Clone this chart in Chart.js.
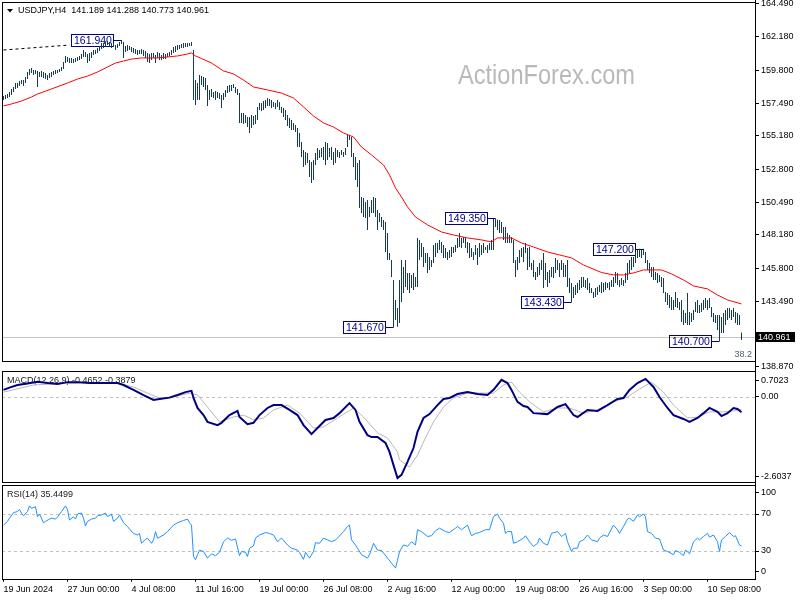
<!DOCTYPE html>
<html><head><meta charset="utf-8">
<script src="https://cdn.jsdelivr.net/npm/chart.js@4.4.1/dist/chart.umd.min.js"></script>
<style>
html,body{margin:0;padding:0;background:#fff;}
body{width:800px;height:600px;position:relative;overflow:hidden;}
canvas{position:absolute;left:0;}
#price{top:0;} #macd{top:365px;} #rsi{top:480px;}
</style></head>
<body>
<canvas id="price" width="800" height="375"></canvas>
<canvas id="macd" width="800" height="120"></canvas>
<canvas id="rsi" width="800" height="120"></canvas>
<script>
// ---------------- DATA ----------------
const symbol = 'USDJPY,H4';
const lastOHLC = [141.189, 141.288, 140.773, 140.961];
const watermark = 'ActionForex.com';
const fibLevel = '38.2';

const highs = [
157.99,158.06,158.13,158.27,158.49,158.63,158.91,158.91,159.05,159.12,
159.12,159.33,159.69,159.90,159.97,159.83,159.83,159.76,159.69,159.76,
159.69,159.62,159.48,159.62,159.69,159.76,159.83,159.83,159.90,160.04,
160.39,160.82,160.75,160.68,160.68,160.60,160.68,160.75,160.82,160.96,
161.24,161.10,160.96,161.03,161.10,161.24,161.24,161.38,161.52,161.73,
161.73,161.80,161.88,161.80,161.73,161.73,161.59,161.66,161.80,161.94,
161.80,161.52,161.59,161.52,161.45,161.38,161.31,161.24,161.24,161.31,
161.24,161.17,161.03,160.96,161.03,161.03,160.89,161.10,161.03,160.89,
161.03,160.96,161.03,161.10,161.24,161.45,161.52,161.59,161.59,161.66,
161.73,161.73,161.73,161.73,161.80,161.24,159.12,158.91,159.48,159.40,
159.33,159.26,158.77,158.42,158.49,158.27,158.35,158.27,158.20,158.06,
158.20,158.42,158.70,158.77,158.77,158.84,158.63,158.49,158.20,156.79,
156.79,156.65,156.51,156.51,156.65,156.58,156.65,157.22,157.50,157.50,
157.64,157.71,157.85,157.78,157.71,157.57,157.50,157.71,157.57,157.22,
157.15,157.00,156.65,156.44,156.30,156.09,155.95,155.73,155.38,154.75,
154.18,154.04,153.97,153.47,153.33,153.47,153.97,154.32,154.18,154.32,
154.39,154.75,154.67,154.32,154.39,154.04,154.32,154.18,154.04,154.18,
154.04,154.32,155.31,155.24,155.10,153.97,153.69,153.26,153.47,150.86,
150.79,150.51,150.65,150.16,150.65,150.86,150.79,149.94,149.73,149.45,
149.24,149.10,148.32,146.91,146.41,145.00,143.59,143.03,145.00,146.41,
145.92,146.41,145.50,145.50,145.36,145.50,145.21,147.97,147.83,147.61,
147.33,146.91,146.91,146.63,146.41,147.47,147.61,147.61,147.83,147.69,
147.47,147.26,146.98,147.12,147.33,147.33,147.47,147.97,148.32,147.97,
148.04,147.97,147.69,147.61,147.26,146.98,147.47,147.26,147.61,147.47,
147.61,147.33,147.47,147.61,147.83,149.30,149.35,149.28,149.24,149.10,
148.74,148.74,148.32,148.18,148.04,147.83,146.41,146.63,147.12,147.26,
147.33,147.61,147.26,147.33,146.20,146.41,145.57,145.92,146.20,146.41,
146.91,146.20,145.57,145.71,145.92,145.92,146.56,146.41,146.20,146.41,
146.20,146.06,146.41,145.14,144.79,144.51,144.65,144.79,145.00,145.21,
145.21,145.00,145.14,144.79,144.44,144.16,144.44,144.51,144.65,144.86,
144.79,144.86,144.79,144.86,145.00,145.21,145.57,145.50,145.00,145.14,
145.00,145.50,146.20,146.41,146.63,146.63,146.98,147.12,147.20,147.12,
147.20,146.98,146.41,146.20,145.92,145.92,145.57,145.50,145.36,145.21,
145.14,144.16,144.08,143.94,143.80,143.59,144.16,143.73,143.45,143.59,
142.88,142.67,144.08,142.74,142.67,142.88,143.45,143.59,143.24,143.38,
143.59,143.73,143.59,143.73,143.10,142.67,142.53,142.53,142.53,142.39,
142.67,142.88,143.03,143.03,142.88,143.03,142.74,142.67,142.53,141.29
];
const lows = [
157.71,157.78,157.85,157.92,158.06,158.27,158.49,158.56,158.70,158.84,
158.70,158.91,159.19,159.48,159.62,159.48,159.55,158.63,159.33,159.33,
159.26,159.19,159.12,159.26,159.33,159.48,159.55,159.62,159.69,159.76,
159.90,160.32,160.39,160.32,160.32,160.32,160.39,160.46,160.53,160.60,
160.75,160.75,160.32,160.46,160.68,160.89,160.96,161.03,161.17,161.31,
161.38,161.45,161.59,161.45,161.38,161.45,161.24,161.38,161.52,161.66,
160.68,161.10,161.17,161.24,161.10,161.03,160.96,160.89,160.96,160.96,
160.82,160.68,160.39,160.32,160.53,160.68,160.32,160.68,160.53,160.53,
160.60,160.60,160.75,160.82,160.89,161.03,161.10,161.24,161.31,161.38,
161.38,161.45,161.45,161.52,161.52,157.71,157.36,157.71,157.71,158.77,
158.63,158.42,157.29,157.71,157.92,157.85,157.71,157.85,157.78,157.15,
157.71,157.92,158.20,158.27,158.35,158.56,158.20,158.06,156.09,156.09,
156.02,156.09,155.80,155.38,155.73,155.95,156.02,156.30,157.00,156.93,
157.00,157.15,157.29,157.29,157.15,157.22,157.07,157.22,157.00,156.79,
156.51,156.30,155.87,155.73,155.59,155.59,155.45,154.39,154.39,153.69,
152.98,153.12,153.26,152.27,151.85,152.06,153.12,153.47,153.62,153.69,
153.47,153.12,153.47,153.69,153.47,153.12,153.26,153.69,153.62,153.83,
153.69,153.83,154.39,154.89,153.69,152.98,152.06,151.57,150.09,149.73,
149.45,149.38,148.53,149.45,149.73,149.73,149.45,148.53,149.10,148.74,
148.53,146.98,146.41,146.41,145.21,141.67,142.18,141.69,141.97,143.45,
144.08,144.51,144.30,144.08,144.44,144.30,144.51,144.51,146.41,146.63,
145.92,146.20,145.50,145.71,145.92,146.20,146.63,146.91,147.12,146.91,
146.56,146.56,146.41,146.56,146.63,146.91,146.98,147.26,147.33,147.26,
147.61,147.26,146.91,146.56,146.63,146.41,146.77,146.06,146.63,146.77,
146.91,147.12,146.91,147.12,147.12,147.12,148.74,148.53,148.32,148.32,
147.83,147.61,147.61,147.61,147.61,146.20,145.21,145.71,146.20,146.63,
146.27,146.91,145.71,145.92,145.71,145.21,145.00,145.21,145.36,145.71,
144.44,145.00,144.51,144.79,145.21,145.14,145.50,145.71,145.21,145.71,
145.21,145.21,144.51,144.08,143.43,143.73,143.94,144.08,144.30,144.44,
144.51,144.44,144.30,144.08,144.08,143.73,143.80,143.94,144.16,144.08,
144.16,144.30,144.44,144.30,144.51,144.51,144.79,144.65,144.51,144.65,
144.58,144.79,145.00,145.50,145.71,145.92,146.20,146.56,146.63,146.56,
146.77,146.20,145.71,145.50,145.21,145.00,145.00,144.79,144.86,144.51,
144.08,143.45,143.24,143.03,142.88,142.88,143.10,143.03,142.88,142.04,
141.82,141.97,141.82,141.82,142.04,142.18,142.74,142.67,142.67,142.74,
142.88,143.03,142.88,143.03,142.39,142.04,141.97,141.47,140.70,141.26,
141.26,141.82,142.18,142.32,142.18,142.39,141.97,141.82,141.82,140.77
];
const maBars = [0,4,9,14,17,24,32,37,42,47,52,56,60,64,69,77,82,87,92,94,96,99,104,110,115,120,125,132,139,145,150,155,160,165,170,175,179,184,190,193,196,199,202,206,212,219,225,232,239,244,247,254,259,265,272,280,284,290,299,305,310,315,320,329,334,340,345,352,357,362,369];
const maValues = [157.29,157.43,157.64,157.92,158.13,158.49,158.91,159.19,159.40,159.69,160.04,160.32,160.46,160.60,160.68,160.68,160.75,160.82,160.96,161.03,160.82,160.64,160.32,159.76,159.55,159.12,158.63,158.42,158.20,157.85,157.22,156.58,156.09,155.80,155.38,155.10,154.39,153.83,153.12,152.42,151.50,150.86,150.16,149.45,148.89,148.39,148.18,147.97,147.83,147.69,147.97,147.97,147.61,147.33,146.98,146.70,146.56,146.06,145.53,145.36,145.36,145.50,145.71,145.71,145.43,145.00,144.58,144.37,143.94,143.59,143.31];
const pivotBars = [59,195,246,284,320,358];
const pivotPrices = [161.94,141.67,149.35,143.43,147.20,140.70];
const trendBars = [0,33];
const trendPrices = [161.24,161.59];
const priceTicks = [164.49,162.18,159.80,157.49,155.18,152.80,150.49,148.18,145.80,143.49,138.87];

const macdTitle = 'MACD(12,26,9)';
const macdLast = [-0.4652,-0.3879];
const macdBars = [0,3,7,12,17,22,27,32,37,43,50,57,60,65,70,75,78,83,87,91,94,95,97,100,102,107,109,113,117,118,122,125,128,132,135,139,143,147,150,154,157,161,165,168,173,176,178,182,184,187,191,193,195,197,199,202,205,207,210,213,217,220,223,227,232,237,242,245,249,252,254,257,260,262,265,272,277,281,285,287,292,297,302,307,310,313,317,321,325,328,332,335,340,343,347,350,353,357,359,362,365,367,369];
const macdValues = [0.22,0.29,0.37,0.42,0.47,0.43,0.40,0.46,0.46,0.43,0.43,0.43,0.37,0.22,0.06,-0.09,-0.06,-0.02,0.06,0.15,0.19,-0.03,-0.34,-0.56,-0.77,-0.87,-0.80,-0.56,-0.43,-0.62,-0.84,-0.80,-0.56,-0.34,-0.25,-0.25,-0.40,-0.56,-0.87,-1.15,-0.96,-0.71,-0.65,-0.50,-0.19,-0.40,-0.77,-1.18,-1.24,-1.24,-1.42,-1.70,-2.11,-2.51,-2.41,-2.01,-1.58,-1.08,-0.65,-0.53,-0.25,-0.06,-0.03,0.09,0.15,0.09,0.06,0.22,0.53,0.43,0.22,-0.15,-0.28,-0.31,-0.50,-0.53,-0.31,-0.22,-0.56,-0.62,-0.40,-0.43,-0.25,-0.06,-0.03,0.22,0.43,0.56,0.31,0.00,-0.34,-0.56,-0.68,-0.77,-0.65,-0.50,-0.34,-0.46,-0.59,-0.50,-0.34,-0.37,-0.47];
const signalBars = [0,15,32,57,65,72,78,85,93,97,102,108,115,120,125,130,135,142,148,155,160,167,175,180,187,192,197,198,203,207,210,215,220,225,232,238,245,250,254,258,263,270,277,283,290,297,305,312,318,324,330,335,342,347,353,360,365,369];
const signalValues = [0.15,0.37,0.43,0.43,0.31,0.12,-0.03,0.00,0.12,0.06,-0.31,-0.77,-0.62,-0.56,-0.71,-0.65,-0.40,-0.25,-0.50,-0.96,-0.93,-0.65,-0.34,-0.62,-1.11,-1.27,-1.70,-1.95,-2.17,-1.80,-1.39,-0.77,-0.31,-0.03,0.12,0.12,0.12,0.37,0.46,0.15,-0.15,-0.46,-0.34,-0.34,-0.50,-0.40,-0.15,0.00,0.25,0.46,0.15,-0.25,-0.65,-0.62,-0.46,-0.46,-0.43,-0.39];
const macdMax = 0.7023, macdMin = -2.6037;
const macdTickLabels = ['0.7023','0.00','-2.6037'];

const rsiTitle = 'RSI(14)';
const rsiLast = 35.4499;
const rsiBars = [0,2,3,5,7,8,9,10,12,13,14,16,17,18,20,21,23,24,26,27,29,31,32,33,35,36,37,39,40,41,42,44,46,47,49,51,52,54,55,57,58,60,62,63,65,67,68,69,71,72,74,75,76,77,80,82,85,87,90,92,93,94,95,96,97,98,100,102,104,106,108,110,112,114,116,118,119,121,122,123,125,126,128,131,133,135,137,139,142,144,147,148,150,151,153,155,156,158,160,162,164,166,167,170,172,173,174,176,177,179,182,183,185,187,189,192,194,196,197,198,200,202,204,206,207,209,212,214,216,218,221,223,226,227,229,232,234,236,238,241,243,245,247,248,250,251,252,254,255,257,260,261,263,265,267,268,270,272,274,277,279,281,282,284,285,287,288,290,292,294,297,298,300,302,305,307,308,310,312,313,315,317,318,320,321,322,324,326,328,330,332,335,336,338,340,341,343,345,347,348,350,352,353,355,357,358,359,361,363,365,366,368,369];
const rsiValues = [58,62,65.5,71.5,72.7,75,70.7,68,72.7,78.8,76,78,67,70,60.5,62,64.5,65.5,64.5,66.7,72.7,78.8,75,63.5,67,64.5,70,71,65.5,57,62,64.5,65.5,68,69,71,67,70,62,65.5,69,60.5,56.5,53.7,49,47.3,49,38.3,42.7,43.8,38.3,42,51,43.8,47.3,51,58,60.5,63,64.5,60.5,58,24,20.5,26,31,29.5,22.3,27,25,28.5,40,44,41.5,43,25,29.5,28.5,24,33,35.5,44,47.3,50,49,47.3,40,44,36.5,33,31,28.5,21,28.5,22.3,29.5,39,38.3,44,42,40,42,44,51,56.5,58,42,36.5,33,26,22.3,26,38.3,31,30.5,22.3,17,11.5,20,29.5,36.5,35,40,36.5,53,51,45.7,46.5,51.9,54.7,51,50,54.7,56.5,53,58,46.5,49,50,53,53,67,70,65.5,60,49,51,51,38.3,40,44,46.5,40,35,38.3,44,38.3,36.5,49,51,45.7,49,40,29.5,33,33,40,42,47.3,42,40,44,47.3,45.7,58,53,49,56.5,64.5,65.5,62,69,67,70,67,51,49,44,43,31,29.5,26,30.5,28.5,25,31,27,40,44,42,45.7,49,45,47.3,40,29.5,42,45.7,50,45.7,46.5,36.5,35.4];
const rsiLevels = [70,30];
const rsiTickLabels = ['100','70','30','0'];

const xTickBars = [0,32,64,96,128,160,192,224,256,288,320,352];
const xTickLabels = ['19 Jun 2024','27 Jun 00:00','4 Jul 08:00','11 Jul 16:00','19 Jul 00:00','26 Jul 08:00','2 Aug 16:00','12 Aug 00:00','19 Aug 08:00','26 Aug 16:00','3 Sep 00:00','10 Sep 08:00'];

// ---------------- STYLE / LAYOUT ----------------
const FONT = "'Liberation Sans', Arial, sans-serif";
const font = s => s + 'px ' + FONT;
const X_MIN = -0.75, X_MAX = 375.75;
const AXIS_W = 45;
const pts = (bars, vals) => bars.map((b, k) => ({x: b, y: vals[k]}));

function xHidden(){ return {type:'linear', min:X_MIN, max:X_MAX, display:false, offset:false, grid:{offset:false}}; }
function rightAxis(min, max, buildTicks, cb){
  return {
    position:'right', min, max,
    border:{display:false},
    grid:{drawOnChartArea:false, drawTicks:true, tickLength:4, color:'#000', lineWidth:1},
    ticks:{font:{family:FONT, size:9}, color:'#000', padding:2, autoSkip:false, callback:cb},
    afterBuildTicks: buildTicks,
    afterFit(s){ s.width = AXIS_W; s.paddingTop = 0; s.paddingBottom = 0; }
  };
}
const common = {responsive:false, animation:false, events:[], plugins:{legend:{display:false}, tooltip:{enabled:false}}};

function drawFrame(ctx, top, bottom, extendTop, extendBottom){
  ctx.save();
  ctx.strokeStyle = '#000'; ctx.lineWidth = 1;
  ctx.strokeRect(2.5, top + 0.5, 753, bottom - top);
  ctx.beginPath(); ctx.moveTo(755.5, extendTop); ctx.lineTo(755.5, extendBottom); ctx.stroke();
  ctx.restore();
}

// ---------------- PRICE ----------------
const priceDeco = {
  id:'priceDeco',
  beforeDatasetsDraw(chart){
    const {ctx, chartArea:a, scales:{x, y}} = chart;
    ctx.save();
    ctx.font = font(28);
    const w = ctx.measureText(watermark).width;
    ctx.save(); ctx.translate(458, 84); ctx.scale(177 / w, 1);
    ctx.fillStyle = '#b9b9b9'; ctx.textBaseline = 'alphabetic'; ctx.textAlign = 'left';
    ctx.fillText(watermark, 0, 0); ctx.restore();
    const cy = Math.round(y.getPixelForValue(lastOHLC[3])) + 0.5;
    ctx.strokeStyle = '#c4c4c4'; ctx.lineWidth = 1;
    ctx.beginPath(); ctx.moveTo(a.left, cy); ctx.lineTo(a.right, cy); ctx.stroke();
    ctx.font = font(10.5); ctx.textBaseline = 'middle'; ctx.textAlign = 'left';
    pivotBars.forEach((b, k) => {
      const px = x.getPixelForValue(b), py = Math.round(y.getPixelForValue(pivotPrices[k])) + 0.5;
      const txt = pivotPrices[k].toFixed(3);
      const tw = ctx.measureText(txt).width;
      const right = Math.round(px - 8.5) + 0.5, left = Math.round(right - tw - 5) + 0.5;
      ctx.strokeStyle = '#00008b'; ctx.fillStyle = '#00008b'; ctx.lineWidth = 1;
      ctx.strokeRect(left, py - 6, right - left, 12);
      ctx.beginPath(); ctx.moveTo(right, py); ctx.lineTo(px, py); ctx.stroke();
      ctx.fillText(txt, left + 2.5, py + 0.5);
    });
    ctx.restore();
  },
  afterDraw(chart){
    const {ctx, scales:{y}} = chart;
    drawFrame(ctx, 2, 361, 0, chart.height);
    ctx.save();
    ctx.fillStyle = '#000';
    ctx.beginPath(); ctx.moveTo(7, 9); ctx.lineTo(13, 9); ctx.lineTo(10, 12.5); ctx.closePath(); ctx.fill();
    ctx.font = font(9); ctx.textBaseline = 'middle'; ctx.textAlign = 'left';
    ctx.fillText(symbol + '  ' + lastOHLC.map(v => v.toFixed(3)).join(' '), 18, 11);
    ctx.fillStyle = '#4a5f74'; ctx.textAlign = 'right';
    ctx.fillText(fibLevel, 752, 355);
    const cy = y.getPixelForValue(lastOHLC[3]);
    ctx.fillStyle = '#000'; ctx.fillRect(756, Math.round(cy) - 5, 39, 10);
    ctx.fillStyle = '#fff'; ctx.textAlign = 'left';
    ctx.fillText(lastOHLC[3].toFixed(3), 758, cy + 0.5);
    ctx.restore();
  }
};

new Chart(document.getElementById('price'), {
  type:'bar',
  data:{datasets:[
    {type:'line', data: pts(maBars, maValues), borderColor:'#ff0000', borderWidth:1, pointRadius:0, tension:0, order:0},
    {type:'line', data: pts(trendBars, trendPrices), borderColor:'#000', borderWidth:1, borderDash:[3,3], pointRadius:0, order:1},
    {type:'bar', data: highs.map((h, i) => ({x:i, y:[lows[i], h]})), backgroundColor:'#163a5a', barThickness:1, inflateAmount:0, grouped:false, order:2}
  ]},
  options:Object.assign({}, common, {
    layout:{padding:{left:2, top:2, right:0, bottom:14}},
    scales:{
      x: xHidden(),
      y: rightAxis(139.28, 164.63, s => { s.ticks = priceTicks.map(v => ({value:v})); }, v => Number(v).toFixed(3))
    }
  }),
  plugins:[priceDeco]
});

// ---------------- MACD ----------------
const MACD_TOP = 9.3, MACD_BOT = 3.9, MACD_H = 120 - MACD_TOP - MACD_BOT;
const macdDeco = {
  id:'macdDeco',
  beforeDatasetsDraw(chart){
    const {ctx, chartArea:a, scales:{y}} = chart;
    ctx.save();
    const zy = Math.round(y.getPixelForValue(0)) + 0.5;
    ctx.strokeStyle = '#c0c0c0'; ctx.lineWidth = 1; ctx.setLineDash([3,3]);
    ctx.beginPath(); ctx.moveTo(a.left, zy); ctx.lineTo(a.right, zy); ctx.stroke();
    ctx.setLineDash([]);
    ctx.font = font(9); ctx.fillStyle = '#1a1a1a'; ctx.textBaseline = 'middle'; ctx.textAlign = 'left';
    ctx.fillText(macdTitle + ' ' + macdLast.map(v => v.toFixed(4)).join(' '), 7, 16);
    ctx.restore();
  },
  afterDraw(chart){ drawFrame(chart.ctx, 6, 117, 0, chart.height); }
};
new Chart(document.getElementById('macd'), {
  type:'line',
  data:{datasets:[
    {data: pts(macdBars, macdValues), borderColor:'#000080', borderWidth:2, pointRadius:0, tension:0, order:0},
    {data: pts(signalBars, signalValues), borderColor:'#b8b8b8', borderWidth:1, pointRadius:0, tension:0, order:1}
  ]},
  options:Object.assign({}, common, {
    layout:{padding:{left:2, top:MACD_TOP, right:0, bottom:MACD_BOT}},
    scales:{
      x: xHidden(),
      y: rightAxis(macdMin, macdMax, s => {
        const k = (macdMax - macdMin) / MACD_H;
        s.ticks = [{value: macdMax - 6 * k}, {value: 0}, {value: macdMin + 5 * k}];
      }, (v, i) => macdTickLabels[i])
    }
  }),
  plugins:[macdDeco]
});

// ---------------- RSI ----------------
const RSI_TOP = 6.25, X_AXIS_H = 21.25, RSI_H = 120 - RSI_TOP - X_AXIS_H;
const rsiDeco = {
  id:'rsiDeco',
  beforeDatasetsDraw(chart){
    const {ctx, chartArea:a, scales:{y}} = chart;
    ctx.save();
    ctx.strokeStyle = '#c0c0c0'; ctx.lineWidth = 1; ctx.setLineDash([3,3]);
    rsiLevels.forEach(l => {
      const ly = Math.round(y.getPixelForValue(l)) + 0.5;
      ctx.beginPath(); ctx.moveTo(a.left, ly); ctx.lineTo(a.right, ly); ctx.stroke();
    });
    ctx.setLineDash([]);
    ctx.font = font(9); ctx.fillStyle = '#1a1a1a'; ctx.textBaseline = 'middle'; ctx.textAlign = 'left';
    ctx.fillText(rsiTitle + ' ' + rsiLast.toFixed(4), 7, 15);
    ctx.restore();
  },
  afterDraw(chart){ drawFrame(chart.ctx, 5, 99, 0, 99.5); }
};
new Chart(document.getElementById('rsi'), {
  type:'line',
  data:{datasets:[
    {data: pts(rsiBars, rsiValues), borderColor:'#1e90ff', borderWidth:1, pointRadius:0, tension:0}
  ]},
  options:Object.assign({}, common, {
    layout:{padding:{left:2, top:RSI_TOP, right:0, bottom:0}},
    scales:{
      x:{
        type:'linear', min:X_MIN, max:X_MAX, position:'bottom', offset:false,
        border:{display:false},
        grid:{drawOnChartArea:false, drawTicks:true, tickLength:3, color:'#000', offset:false},
        ticks:{font:{family:FONT, size:9}, color:'#000', align:'start', padding:2, maxRotation:0, autoSkip:false,
               callback:(v, i) => xTickLabels[i]},
        afterBuildTicks(s){ s.ticks = xTickBars.map(v => ({value:v})); },
        afterFit(s){ s.height = X_AXIS_H; s.paddingLeft = 0; s.paddingRight = 0; }
      },
      y: rightAxis(0, 100, s => {
        const k = 100 / RSI_H;
        s.ticks = [{value: 100 - 6 * k}, {value: 70}, {value: 30}, {value: 7 * k}];
      }, (v, i) => rsiTickLabels[i])
    }
  }),
  plugins:[rsiDeco]
});
</script>
</body></html>
